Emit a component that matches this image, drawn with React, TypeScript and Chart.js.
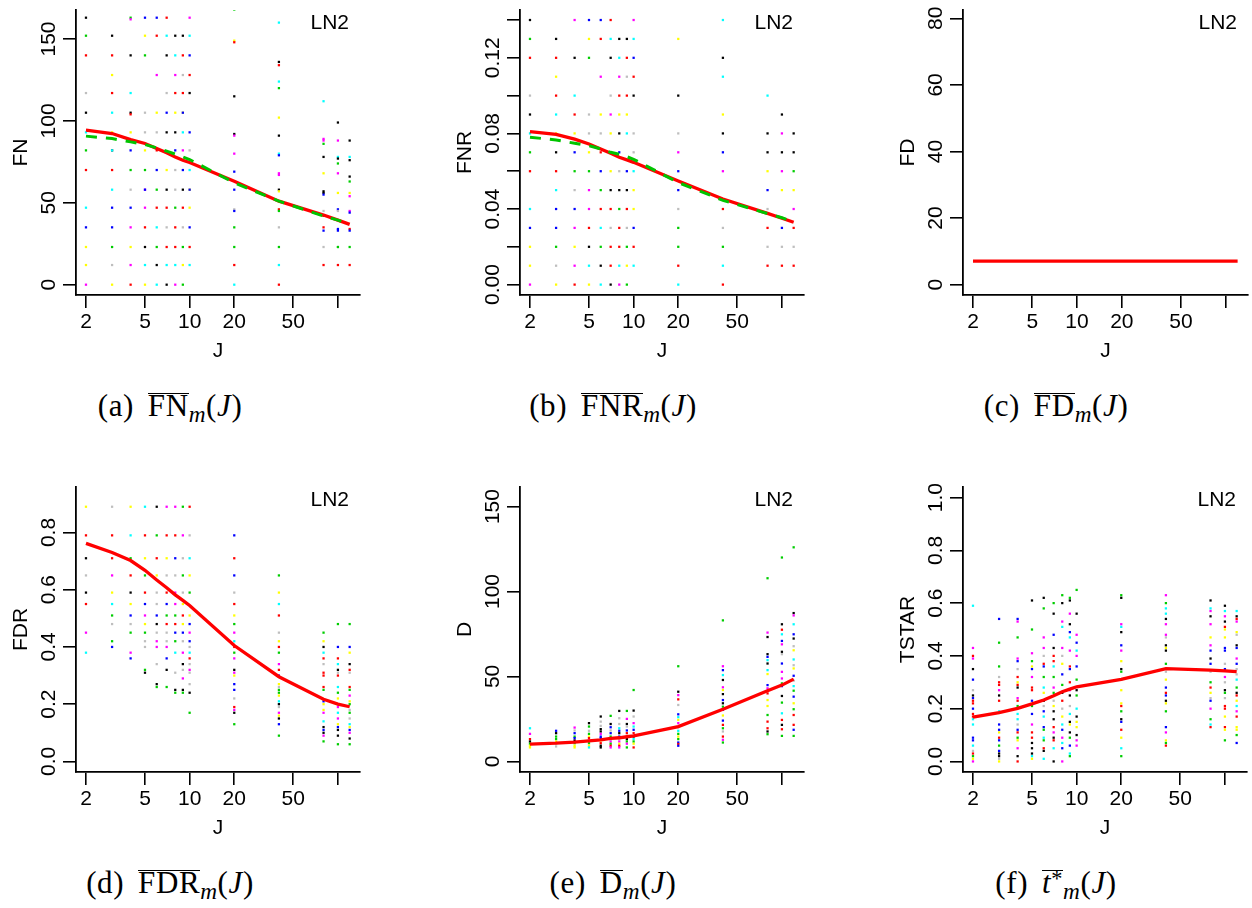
import React, { useEffect, useRef } from 'react';
import { Chart, registerables } from 'chart.js';

Chart.register(...registerables);

// ---------- shared axis data ----------
const J = [2, 3, 4, 5, 6, 7, 8, 9, 10, 20, 40, 80, 100, 120];
const xTicks = [2, 5, 10, 20, 50, 100];
const xTickLabels = ['2', '5', '10', '20', '50', ''];

// colour letters: k black, r red, g green, b blue, c cyan, m magenta, y yellow, a gray
const COLORS: Record<string, string> = {
  k: '#000000', r: '#FF0000', g: '#00CD00', b: '#0000FF',
  c: '#00FFFF', m: '#FF00FF', y: '#FFFF00', a: '#BEBEBE',
};

// ---------- (a) FN ----------
const fnTicks = [0, 50, 100, 150];
const fnTickLabels = ['0', '50', '100', '150'];
const fnPoints = [
  '163k 152g 140r 117a 105k 93c 82g 70r 47c 35b 23y 12y 0m',
  '152k 140r 128y 117r 105c 93y 82k 82c 70r 58c 47b 35b 23g 12a 0y',
  '163g 162m 140k 117c 105k 104r 93y 82b 70g 58a 47b 35m 23y 12m 0r',
  '163b 152y 140g 105a 93a 82y 70g 58m 58b 47m 35r 23k 12c 0y',
  '163b 152r 128m 105y 93a 82r 70b 58g 47r 35c 23g 12k 0c',
  '163r 152c 140k 117a 105b 93k 70y 58k 47r 35a 23r 12c 0k',
  '152k 140c 128m 117r 105y 93k 82b 70a 58a 47g 35r 23r 12c 0m',
  '152k 140r 128a 117r 105y 105b 93c 82m 70b 58k 47r 35a 23g 12y 0g',
  '163m 152c 140b 128r 117k 93b 82a 70c 58y 58b 47y 35b 23r 12c',
  '168g 149y 148r 115k 92k 91m 80m 69b 58b 46a 45b 35g 23g 12r 0c',
  '160c 136k 134r 124c 120g 102y 91k 80c 79b 68m 67m 58k 57y 46r 45g 35a 23g 12c 0r',
  '112c 89m 88m 86g 78k 68y 57k 56k 55b 45a 42g 35r 33b 23a 12r',
  '99k 88m 78c 77k 74g 68m 56y 46b 45a 34b 33b 23a 23g 12r',
  '88k 78c 76k 66k 63g 56y 54m 45m 44b 34r 33b 23g 12r',
];
const fnMean = [94.3, 92.3, 88.6, 86.2, 83.1, 80.5, 78, 76, 74.6, 63.2, 51, 42.5, 39.4, 36.8];
const fnAlt = [90.7, 89.2, 87.2, 85.6, 83.5, 81.5, 79.7, 78, 76.4, 62.2, 51, 41.9, 39.4, 36.8];

// ---------- (b) FNR ----------
const fnrTicks = [0, 0.02, 0.04, 0.06, 0.08, 0.1, 0.12, 0.14];
const fnrTickLabels = ['0.00', '', '0.04', '', '0.08', '', '0.12', ''];
const fnrPoints = [
  '0.14k 0.13g 0.12r 0.10a 0.09k 0.08c 0.07g 0.06r 0.04c 0.03b 0.02y 0.01y 0m',
  '0.13k 0.12r 0.11y 0.10r 0.09c 0.08y 0.07k 0.06r 0.05c 0.04b 0.03b 0.02g 0.01a 0y',
  '0.14m 0.12k 0.10c 0.09r 0.08y 0.07b 0.06g 0.05a 0.04b 0.03m 0.02y 0.01m 0r',
  '0.14b 0.13y 0.12g 0.09a 0.08a 0.07y 0.06g 0.05m 0.04m 0.03r 0.02k 0.01c 0y',
  '0.14b 0.13r 0.11m 0.09y 0.08a 0.07r 0.06b 0.05g 0.04r 0.03c 0.02g 0.01k 0c',
  '0.14r 0.13c 0.12k 0.10a 0.09m 0.08y 0.06y 0.05k 0.04r 0.03a 0.02r 0.01r 0k',
  '0.13k 0.12c 0.11m 0.10r 0.09y 0.08k 0.07b 0.06a 0.05k 0.04g 0.03r 0.02r 0.01c 0m',
  '0.13k 0.12r 0.11a 0.10r 0.09y 0.08c 0.06b 0.05k 0.04r 0.03a 0.02g 0.01y 0g',
  '0.14m 0.13c 0.12b 0.11r 0.10k 0.08a 0.07a 0.06c 0.05y 0.04y 0.03b 0.02r 0.01c',
  '0.13y 0.10k 0.08a 0.07m 0.06b 0.05b 0.04a 0.03g 0.02g 0.01r 0c',
  '0.14c 0.12k 0.11c 0.09y 0.08k 0.07b 0.06m 0.04r 0.03a 0.02g 0.01c 0r',
  '0.10c 0.08k 0.07k 0.06y 0.05b 0.04a 0.03r 0.02a 0.01r',
  '0.09k 0.08m 0.07k 0.06m 0.05y 0.03b 0.02a 0.01r',
  '0.08k 0.07k 0.06g 0.05y 0.04m 0.03r 0.02a 0.01r',
];
const fnrMean = [0.081, 0.0795, 0.077, 0.0744, 0.0718, 0.0695, 0.0674, 0.066, 0.0647, 0.0548, 0.0453, 0.0377, 0.0351, 0.033];
const fnrAlt = [0.078, 0.0765, 0.0748, 0.0735, 0.0718, 0.07, 0.069, 0.0677, 0.0663, 0.054, 0.0446, 0.0376, 0.0354, 0.033];

// ---------- (c) FD ----------
const fdTicks = [0, 20, 40, 60, 80];
const fdTickLabels = ['0', '20', '40', '60', '80'];
const fdMean = [7.1, 7.1, 7.1, 7.1, 7.1, 7.1, 7.1, 7.1, 7.1, 7.1, 7.1, 7.1, 7.1, 7.1];

// ---------- (d) FDR ----------
const fdrTicks = [0, 0.2, 0.4, 0.6, 0.8];
const fdrTickLabels = ['0.0', '0.2', '0.4', '0.6', '0.8'];
const fdrPoints = [
  '0.89y 0.79r 0.71k 0.65a 0.59k 0.55r 0.45m 0.38c',
  '0.89a 0.79r 0.71r 0.65m 0.59y 0.55c 0.51g 0.48a 0.42g 0.40b',
  '0.89y 0.79c 0.71g 0.65r 0.59k 0.55y 0.51b 0.48a 0.45g 0.38m 0.36b',
  '0.89c 0.79r 0.71y 0.65g 0.59r 0.55b 0.51m 0.48y 0.45g 0.42a 0.40a 0.32g 0.31k',
  '0.89k 0.79g 0.71r 0.65y 0.59a 0.55a 0.51b 0.48k 0.45a 0.42m 0.40m 0.34a 0.27k 0.26g',
  '0.89m 0.79r 0.71y 0.65a 0.59r 0.55b 0.51g 0.48r 0.45a 0.42a 0.40m 0.36b 0.32k 0.26g',
  '0.89m 0.79r 0.71b 0.65a 0.59m 0.55m 0.51g 0.48r 0.45b 0.42g 0.38c 0.31a 0.25k 0.24g',
  '0.89g 0.79m 0.71a 0.65g 0.59a 0.55y 0.51r 0.48y 0.45b 0.42a 0.38m 0.34k 0.32a 0.29m 0.25k 0.24g',
  '0.89r 0.79a 0.71c 0.65y 0.59g 0.51y 0.48b 0.45m 0.42b 0.40a 0.38c 0.36r 0.34a 0.32m 0.31a 0.27a 0.24k 0.17g',
  '0.79b 0.71r 0.65b 0.59a 0.55r 0.51y 0.48g 0.45m 0.42c 0.40r 0.38g 0.36m 0.32k 0.31m 0.30y 0.27b 0.25b 0.22a 0.19r 0.18m 0.17k 0.13g',
  '0.65g 0.59y 0.55c 0.51r 0.45a 0.42y 0.40r 0.38g 0.34m 0.32r 0.30b 0.27y 0.26a 0.25g 0.24g 0.23y 0.21c 0.20k 0.19a 0.17m 0.16y 0.15k 0.13b 0.09g',
  '0.45g 0.42y 0.40k 0.38c 0.36r 0.34a 0.31r 0.30r 0.26r 0.25g 0.21b 0.20y 0.18y 0.17m 0.14c 0.12k 0.11b 0.10k 0.09m 0.07g',
  '0.48g 0.40b 0.36r 0.34c 0.32k 0.31a 0.30r 0.26c 0.24g 0.22y 0.20g 0.19m 0.17c 0.15m 0.13y 0.12b 0.11k 0.09k 0.06g',
  '0.48g 0.40b 0.38y 0.34k 0.32r 0.31a 0.26r 0.25g 0.23m 0.21y 0.20g 0.18a 0.17g 0.15a 0.13c 0.12y 0.11b 0.10m 0.08k 0.06g',
];
const fdrMean = [0.762, 0.73, 0.702, 0.668, 0.634, 0.607, 0.582, 0.563, 0.545, 0.405, 0.296, 0.217, 0.2, 0.191];

// ---------- (e) D ----------
const dTicks = [0, 50, 100, 150];
const dTickLabels = ['0', '50', '100', '150'];
const dPoints = [
  '19.5c 16.2m 13.1r 11.7k 10.4g 9.2y 8.2y',
  '18b 16.6k 14.6g 13.1g 11.7y 10.4a 8.8a',
  '19.9m 18.2a 16.6b 14.6g 13.7b 12.3k 10.7g 9.2y 8.2y',
  '22.5k 20.5g 18a 16.2g 14.6y 13.7r 12.3m 10.7g 9.2y 8.2c',
  '26.4k 23.4a 20.9a 19k 17.6k 16.2m 14.6b 13.7b 12.3y 10.7r 9.2k 8.2k',
  '26.8g 22k 20.1b 18.2a 16.6b 14.6g 13.1g 11.7m 10.4g 9.2r 8.2m',
  '29.7k 25.4a 22a 19.5c 18b 16.6k 14.6b 13.1a 11.7m 10.4y 9.2r 8.2m',
  '29.7g 25m 22k 20.5a 18.2b 16.6r 14.6a 13.1k 11.7g 10.4m 8.2g',
  '42g 29.9k 26.4a 22.5m 20.5c 18.6b 16.6r 14.6k 13.1c 11.7g 10.4y 8.2r',
  '56g 41k 39m 36.5r 33.2a 27.7b 26c 24.4y 22.5m 20.1a 18c 16.2g 14.6y 13.1g 11.1b 10.2r 9.2b',
  '83g 56m 53.7b 50.8c 47.9k 43.6m 42y 39.6k 36.1b 34.2k 32.2g 30.3b 27y 24b 21.5r 19.5g 17.6a 14.6r 12.7m 11.1g',
  '107.8g 75.8m 73.2k 63.1k 61.5b 59.6c 57.6k 53.7c 51.4y 44.9b 43m 40r 36.1y 32.6y 27.3g 23.4r 19.5r 17.6k 16g',
  '120g 80.7k 77.5r 74.8c 70.9b 68.9m 64.5k 63.1a 57.6b 52.7m 48.8m 45.9g 44.3b 38.5k 34.6g 28.3c 24.4r 21.5k 18.9r 15g',
  '126g 87.3k 85.9m 80.7c 74.8b 72.3k 67.8a 65.4y 60c 56.6a 54.7y 50.4b 47.5a 44.3c 41.6g 38.1b 34.2y 30.7g 27.3r 21.5r 18.6b 15g',
];
const dMean = [10.2, 10.7, 11.3, 12.1, 12.7, 13.5, 13.9, 14.5, 15, 20.5, 30.7, 41.6, 44.9, 48.4];

// ---------- (f) TSTAR ----------
const tTicks = [0, 0.2, 0.4, 0.6, 0.8, 1.0];
const tTickLabels = ['0.0', '0.2', '0.4', '0.6', '0.8', '1.0'];
const tPoints = [
  '0.59c 0.43m 0.40r 0.39m 0.35k 0.31b 0.27a 0.25k 0.24b 0.23r 0.22r 0.20b 0.18r 0.17r 0.16c 0.14c 0.09b 0.08b 0.06c 0.04a 0.03r 0.02g 0.01y 0m',
  '0.54b 0.45g 0.36g 0.32a 0.30r 0.29r 0.27m 0.25k 0.23r 0.19c 0.14b 0.12b 0.11y 0.09r 0.08b 0.06g 0.04b 0.03k 0.02k 0.01a 0y',
  '0.54b 0.53m 0.47g 0.39m 0.38b 0.35a 0.32r 0.30y 0.29r 0.28k 0.24m 0.23r 0.21g 0.18c 0.16c 0.14a 0.12b 0.11r 0.09g 0.08y 0.05m 0.02k 0r',
  '0.61k 0.50g 0.41m 0.38g 0.36y 0.35b 0.32m 0.28r 0.27r 0.23b 0.21g 0.18b 0.14m 0.11r 0.09r 0.07k 0.05k 0.03k 0.02c 0.01y',
  '0.62k 0.58g 0.47m 0.43m 0.40a 0.37r 0.36b 0.32g 0.28c 0.26y 0.23k 0.21a 0.19b 0.17c 0.13b 0.12g 0.09c 0.08g 0.05r 0.04k 0.01c',
  '0.60g 0.56k 0.48b 0.43k 0.40r 0.38r 0.36c 0.32g 0.28m 0.26g 0.23a 0.21y 0.19k 0.16k 0.13r 0.11m 0.09k 0.08r 0.05c 0k',
  '0.63g 0.60k 0.53m 0.51c 0.43m 0.40a 0.37y 0.33b 0.29g 0.26k 0.23r 0.20a 0.17y 0.14c 0.12b 0.09m 0.07c 0.05b 0m',
  '0.62g 0.61k 0.56m 0.52k 0.49b 0.47c 0.42m 0.36r 0.35b 0.30r 0.27m 0.25k 0.21a 0.18c 0.15k 0.14y 0.11k 0.09g 0.06b 0.03c 0.02g',
  '0.65g 0.56k 0.48m 0.45b 0.42c 0.40m 0.36b 0.31g 0.27k 0.25g 0.20c 0.17k 0.15y 0.13y 0.10k 0.08m 0.06m',
  '0.63g 0.62k 0.52m 0.51c 0.49k 0.44b 0.42m 0.38y 0.35k 0.34g 0.31c 0.27y 0.22y 0.21r 0.19g 0.16k 0.15b 0.12r 0.09y 0.05c 0.02g',
  '0.63m 0.60g 0.58c 0.56c 0.54k 0.52m 0.48m 0.47a 0.44k 0.43y 0.42k 0.37g 0.34a 0.31y 0.28b 0.26r 0.25b 0.23k 0.22y 0.19g 0.13b 0.11m 0.08y 0.07g 0.06r',
  '0.61k 0.58c 0.57m 0.55k 0.52m 0.47y 0.44m 0.42b 0.39k 0.37b 0.34a 0.30g 0.28r 0.26y 0.24a 0.23b 0.20m 0.16g 0.14c 0.13r',
  '0.59k 0.57c 0.55m 0.53k 0.51r 0.50y 0.47y 0.43b 0.42b 0.37a 0.35b 0.32m 0.30a 0.27k 0.26g 0.24a 0.21r 0.20r 0.17y 0.13r 0.12y 0.08g',
  '0.57c 0.55k 0.54r 0.53m 0.49y 0.48a 0.44k 0.43b 0.39m 0.37b 0.35a 0.33a 0.31c 0.28g 0.26k 0.25r 0.23y 0.21c 0.19m 0.17r 0.13y 0.12y 0.10g 0.07b',
];
const tMean = [0.168, 0.185, 0.201, 0.218, 0.233, 0.249, 0.264, 0.274, 0.283, 0.311, 0.352, 0.346, 0.343, 0.34];

// ---------- panel definitions ----------
type PanelCfg = {
  letter: string; name: string; star?: boolean; col: number; row: number;
  yTitle: string; yMin: number; yMax: number; yTicks: number[]; yLabels: string[];
  points?: string[]; mean: number[]; alt?: number[];
};

const panels: PanelCfg[] = [
  { letter: 'a', name: 'FN', col: 0, row: 0, yTitle: 'FN', yMin: -6.3, yMax: 167.7, yTicks: fnTicks, yLabels: fnTickLabels, points: fnPoints, mean: fnMean, alt: fnAlt },
  { letter: 'b', name: 'FNR', col: 1, row: 0, yTitle: 'FNR', yMin: -0.0055, yMax: 0.1453, yTicks: fnrTicks, yLabels: fnrTickLabels, points: fnrPoints, mean: fnrMean, alt: fnrAlt },
  { letter: 'c', name: 'FD', col: 2, row: 0, yTitle: 'FD', yMin: -3.1, yMax: 82.5, yTicks: fdTicks, yLabels: fdTickLabels, mean: fdMean },
  { letter: 'd', name: 'FDR', col: 0, row: 1, yTitle: 'FDR', yMin: -0.037, yMax: 0.959, yTicks: fdrTicks, yLabels: fdrTickLabels, points: fdrPoints, mean: fdrMean },
  { letter: 'e', name: 'D', col: 1, row: 1, yTitle: 'D', yMin: -6.25, yMax: 161.5, yTicks: dTicks, yLabels: dTickLabels, points: dPoints, mean: dMean },
  { letter: 'f', name: 't', star: true, col: 2, row: 1, yTitle: 'TSTAR', yMin: -0.04, yMax: 1.04, yTicks: tTicks, yLabels: tTickLabels, points: tPoints, mean: tMean },
];

const COL_X = [0, 444, 887];
const ROW_Y = [0, 477];
const CAP_X = [170, 613, 1056];
const CAP_TOP = [388, 865];
const CANVAS_W = 364;
const CANVAS_H = 380;
const SANS = '"Liberation Sans", Arial, sans-serif';

function parsePoints(rows: string[]) {
  const pts: { x: number; y: number }[] = [];
  const cols: string[] = [];
  rows.forEach((row, i) => {
    row.trim().split(/\s+/).forEach((tok) => {
      const c = tok.slice(-1);
      pts.push({ x: J[i], y: parseFloat(tok.slice(0, -1)) });
      cols.push(COLORS[c]);
    });
  });
  return { pts, cols };
}

const panelTextPlugin = {
  id: 'panelText',
  afterDraw(chart: any, _args: any, opts: any) {
    const { ctx, chartArea } = chart;
    const ys = chart.scales.y;
    ctx.save();
    ctx.fillStyle = '#000';
    ctx.font = `21px ${SANS}`;
    // y tick labels, rotated like R's default
    (opts.ticks as number[]).forEach((v, i) => {
      const label = opts.labels[i];
      if (!label) return;
      const y = ys.getPixelForValue(v);
      ctx.save();
      ctx.translate(chartArea.left - 27, y);
      ctx.rotate(-Math.PI / 2);
      ctx.textAlign = 'center';
      ctx.textBaseline = 'middle';
      ctx.fillText(label, 0, 0);
      ctx.restore();
    });
    // LN2 label
    ctx.textAlign = 'right';
    ctx.textBaseline = 'middle';
    ctx.fillText('LN2', chartArea.right - 11, chartArea.top + 13);
    ctx.restore();
  },
};

function Panel({ cfg }: { cfg: PanelCfg }) {
  const ref = useRef<HTMLCanvasElement | null>(null);
  useEffect(() => {
    if (!ref.current) return;
    const datasets: any[] = [];
    if (cfg.alt) {
      datasets.push({
        type: 'scatter', showLine: true, data: J.map((x, i) => ({ x, y: cfg.alt![i] })),
        borderColor: '#00C400', borderWidth: 3, borderDash: [11, 9], pointRadius: 0, fill: false, order: 0,
      });
    }
    datasets.push({
      type: 'scatter', showLine: true, data: J.map((x, i) => ({ x, y: cfg.mean[i] })),
      borderColor: '#FF0000', borderWidth: 3.3, pointRadius: 0, fill: false, order: 1,
    });
    if (cfg.points) {
      const { pts, cols } = parsePoints(cfg.points);
      datasets.push({
        type: 'scatter', data: pts, pointBackgroundColor: cols, pointBorderWidth: 0,
        pointRadius: 1.6, pointStyle: 'rect', showLine: false, order: 2,
      });
    }
    const gridOpts = { drawOnChartArea: false, drawTicks: true, tickLength: 13, color: '#000', lineWidth: 1.6 };
    const borderOpts = { display: true, color: '#000', width: 1.8 };
    const chart = new Chart(ref.current, {
      type: 'scatter',
      data: { datasets },
      options: {
        animation: false,
        responsive: false,
        maintainAspectRatio: false,
        events: [],
        layout: { padding: { top: 10, right: 3, left: 0, bottom: 0 } },
        plugins: {
          legend: { display: false },
          tooltip: { enabled: false },
          panelText: { ticks: cfg.yTicks, labels: cfg.yLabels },
        } as any,
        scales: {
          x: {
            type: 'logarithmic', position: 'bottom', min: 1.713, max: 140.9,
            afterBuildTicks: (s: any) => { s.ticks = xTicks.map((v) => ({ value: v })); },
            afterFit: (s: any) => { s.height = CANVAS_H - 295; },
            grid: gridOpts, border: borderOpts,
            ticks: {
              autoSkip: false, maxRotation: 0, minRotation: 0, padding: 2, color: '#000',
              font: { family: SANS, size: 21 },
              callback: (v: any) => { const i = xTicks.indexOf(Number(v)); return i >= 0 ? xTickLabels[i] : ''; },
            },
            title: { display: true, text: 'J', color: '#000', font: { family: SANS, size: 21 }, padding: { top: 0, bottom: 16 } },
          },
          y: {
            type: 'linear', position: 'left', min: cfg.yMin, max: cfg.yMax,
            afterBuildTicks: (s: any) => { s.ticks = cfg.yTicks.map((v) => ({ value: v })); },
            afterFit: (s: any) => { s.width = 76; },
            grid: gridOpts, border: borderOpts,
            ticks: { display: false },
            title: { display: true, text: cfg.yTitle, color: '#000', font: { family: SANS, size: 21 }, padding: { top: 9, bottom: 0 } },
          },
        } as any,
      },
      plugins: [panelTextPlugin],
    });
    return () => chart.destroy();
  }, [cfg]);
  return (
    <canvas
      ref={ref}
      width={CANVAS_W}
      height={CANVAS_H}
      style={{ position: 'absolute', left: COL_X[cfg.col], top: ROW_Y[cfg.row], width: CANVAS_W, height: CANVAS_H }}
    />
  );
}

function Caption({ cfg }: { cfg: PanelCfg }) {
  return (
    <div
      style={{
        position: 'absolute', left: CAP_X[cfg.col] - 160, width: 320, top: CAP_TOP[cfg.row],
        textAlign: 'center', fontFamily: '"Liberation Serif", serif', fontSize: 31, lineHeight: '36px',
        letterSpacing: '0.6px', color: '#000', whiteSpace: 'nowrap',
      }}
    >
      ({cfg.letter})<span style={{ display: 'inline-block', width: '0.45em' }} />
      <span style={{ display: 'inline-block', borderTop: '1.4px solid #000', lineHeight: '0.8em' }}>
        {cfg.star ? (
          <>
            <i>t</i>
            <span style={{ fontSize: '0.72em', position: 'relative', top: '-0.3em' }}>*</span>
          </>
        ) : (
          cfg.name
        )}
      </span>
      <i style={{ fontSize: '0.75em', position: 'relative', top: '0.25em' }}>m</i>(<i>J</i>)
    </div>
  );
}

export default function App() {
  return (
    <div style={{ position: 'absolute', left: 0, top: 0, width: 1252, height: 908, background: '#fff', overflow: 'hidden' }}>
      {panels.map((p) => (
        <React.Fragment key={p.letter}>
          <Panel cfg={p} />
          <Caption cfg={p} />
        </React.Fragment>
      ))}
    </div>
  );
}
